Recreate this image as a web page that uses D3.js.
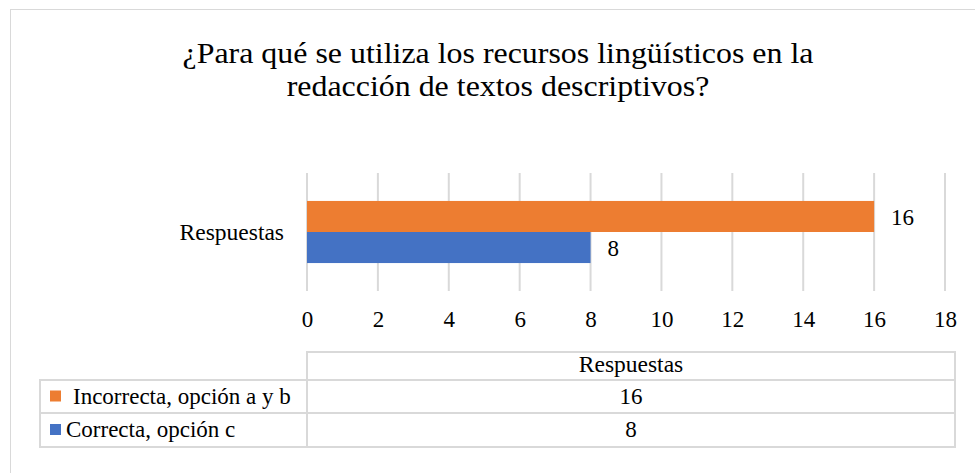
<!DOCTYPE html>
<html>
<head>
<meta charset="utf-8">
<script src="https://cdn.jsdelivr.net/npm/d3@7"></script>
</head>
<body style="margin:0;background:#fff">
<script>
// data
var categories = ["Respuestas"];
var seriesNames = ["Incorrecta, opción a y b", "Correcta, opción c"];
var seriesValues = [16, 8];
var seriesColors = ["#ed7d31", "#4472c4"];
var xTicks = [0, 2, 4, 6, 8, 10, 12, 14, 16, 18];

var serif = "Liberation Serif";
var W = 975, H = 473;
var svg = d3.select("body").append("svg")
    .attr("width", W)
    .attr("height", H)
    .attr("font-family", serif)
    .style("display", "block");

svg.append("rect")
    .attr("width", W).attr("height", H).attr("fill", "#fff");

// chart border
svg.append("rect")
    .attr("x", 10.5).attr("y", 9.5)
    .attr("width", W + 10).attr("height", H + 10)
    .attr("fill", "none")
    .attr("stroke", "#d9d9d9")
    .attr("stroke-width", 1);

// title (slightly stretched like the original)
var title = svg.append("text")
    .attr("text-anchor", "middle")
    .attr("font-family", serif)
    .attr("font-size", "28.5px")
    .attr("transform", "translate(498,0) scale(1.12,1)");
title.append("tspan").attr("x", 0).attr("y", 63)
    .text("¿Para qué se utiliza los recursos lingüísticos en la");
title.append("tspan").attr("x", 0).attr("y", 96)
    .text("redacción de textos descriptivos?");

// scales
var x = d3.scaleLinear().domain([0, 18]).range([307, 945]);
var y = d3.scaleBand().domain(categories).range([173, 291]);
var ySub = d3.scaleBand().domain(seriesNames)
    .range([0, y.bandwidth()]).paddingOuter(0.9);

// gridlines
svg.append("g").selectAll("line")
    .data(xTicks)
    .enter().append("line")
    .attr("x1", function(d) { return x(d); })
    .attr("x2", function(d) { return x(d); })
    .attr("y1", 173).attr("y2", 291)
    .attr("stroke", "#d9d9d9")
    .attr("stroke-width", 2);

// bars
var bars = seriesNames.map(function(name, i) {
    return { name: name, value: seriesValues[i], color: seriesColors[i], cat: categories[0] };
});

svg.append("g").selectAll("rect")
    .data(bars)
    .enter().append("rect")
    .attr("x", x(0))
    .attr("y", function(d) { return y(d.cat) + ySub(d.name); })
    .attr("width", function(d) { return x(d.value) - x(0); })
    .attr("height", ySub.bandwidth())
    .attr("fill", function(d) { return d.color; });

// value labels
svg.append("g").selectAll("text")
    .data(bars)
    .enter().append("text")
    .attr("x", function(d) { return x(d.value) + 17; })
    .attr("y", function(d) { return y(d.cat) + ySub(d.name) + ySub.bandwidth() / 2 + 8.5; })
    .attr("font-family", serif)
    .attr("font-size", "23px")
    .text(function(d) { return d.value; });

// x axis
var xAxis = svg.append("g")
    .attr("transform", "translate(0,291)")
    .call(d3.axisBottom(x).tickValues(xTicks).tickSize(0).tickPadding(20));
xAxis.select(".domain").remove();
xAxis.selectAll("text")
    .attr("font-family", serif)
    .attr("font-size", "23px")
    .attr("fill", "#000");

// y axis category label
svg.append("g").selectAll("text")
    .data(categories)
    .enter().append("text")
    .attr("x", 284)
    .attr("y", function(d) { return y(d) + y.bandwidth() / 2 + 8; })
    .attr("text-anchor", "end")
    .attr("font-family", serif)
    .attr("font-size", "23.5px")
    .text(function(d) { return d; });

// data table
var tLeft = 40, tMid = 307, tRight = 955;
var rowTops = [352, 380, 413, 447];
var tg = svg.append("g").attr("font-family", serif);
var lineColor = "#d9d9d9";

// header cell
tg.append("rect")
    .attr("x", tMid).attr("y", rowTops[0])
    .attr("width", tRight - tMid).attr("height", rowTops[1] - rowTops[0])
    .attr("fill", "none").attr("stroke", lineColor).attr("stroke-width", 2);

tg.append("text")
    .attr("x", (tMid + tRight) / 2)
    .attr("y", rowTops[0] + 20)
    .attr("text-anchor", "middle")
    .attr("font-size", "23.5px")
    .text(categories[0]);

seriesNames.forEach(function(name, i) {
    var top = rowTops[i + 1], bottom = rowTops[i + 2];
    tg.append("rect")
        .attr("x", tLeft).attr("y", top)
        .attr("width", tMid - tLeft).attr("height", bottom - top)
        .attr("fill", "none").attr("stroke", lineColor).attr("stroke-width", 2);
    tg.append("rect")
        .attr("x", tMid).attr("y", top)
        .attr("width", tRight - tMid).attr("height", bottom - top)
        .attr("fill", "none").attr("stroke", lineColor).attr("stroke-width", 2);
    // legend key
    tg.append("rect")
        .attr("x", tLeft + 10)
        .attr("y", (top + bottom) / 2 - 6)
        .attr("width", 11).attr("height", 11)
        .attr("fill", seriesColors[i]);
    tg.append("text")
        .attr("x", i === 0 ? tLeft + 33 : tLeft + 26)
        .attr("y", (top + bottom) / 2 + 7)
        .attr("font-size", "23px")
        .text(name);
    tg.append("text")
        .attr("x", (tMid + tRight) / 2)
        .attr("y", (top + bottom) / 2 + 7)
        .attr("text-anchor", "middle")
        .attr("font-size", "23px")
        .text(seriesValues[i]);
});
</script>
</body>
</html>
